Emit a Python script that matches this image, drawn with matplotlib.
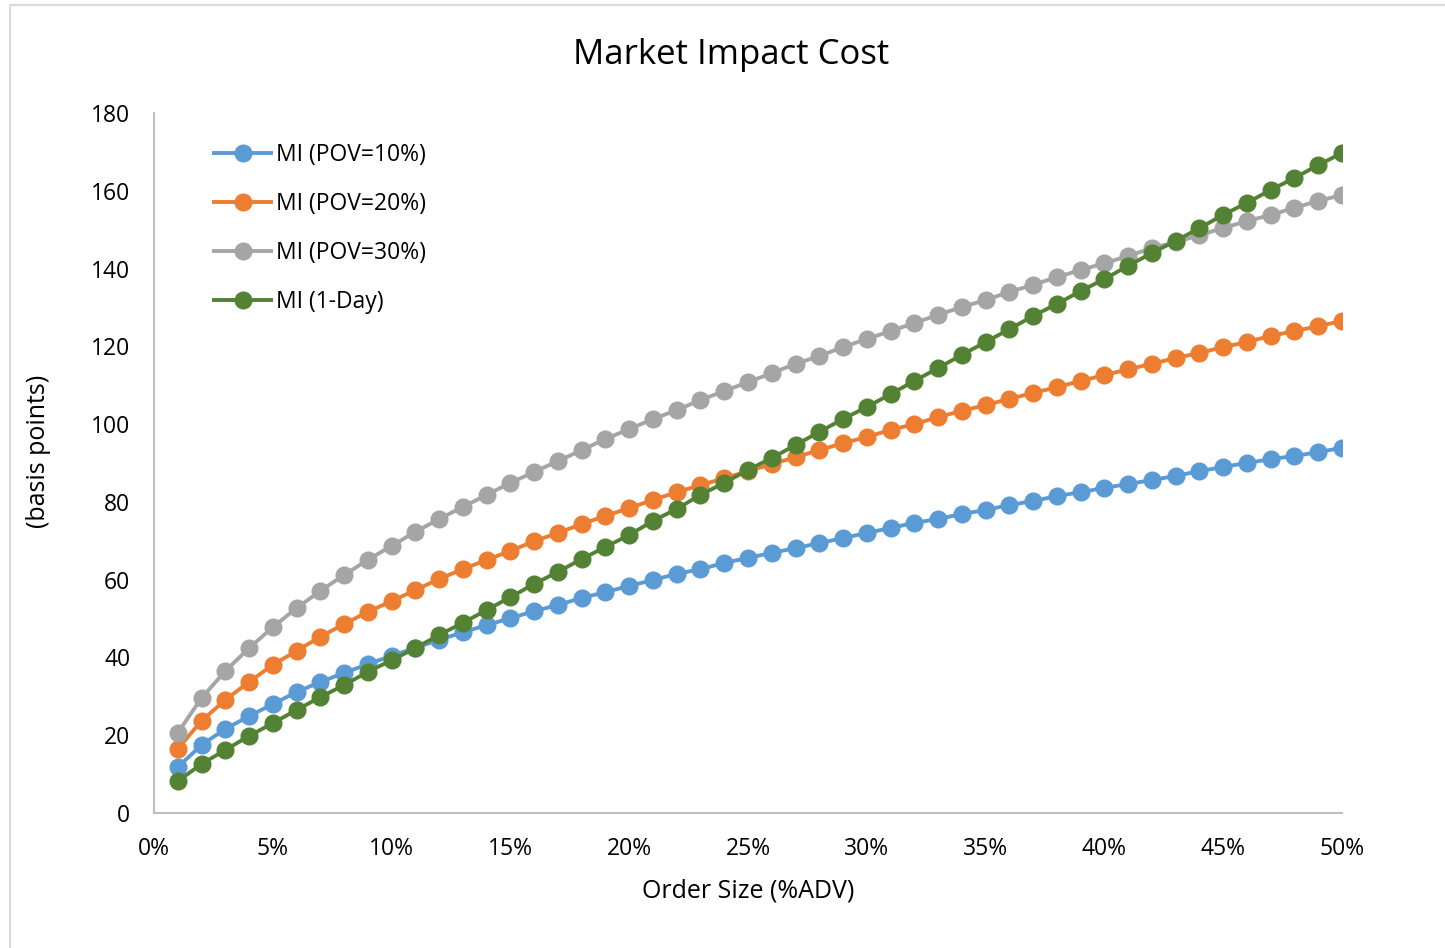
import numpy as np
import matplotlib.pyplot as plt
from matplotlib.patches import Rectangle
from matplotlib.ticker import FuncFormatter

# ---- data: order size (% of ADV) and market impact in basis points ----
order_size = np.arange(1, 51) / 100.0

mi_pov10 = [11.8, 17.5, 21.6, 24.9, 28.0, 31.1, 33.7, 36.0, 38.3, 40.4,
            42.5, 44.5, 46.5, 48.3, 50.1, 51.9, 53.5, 55.3, 56.8, 58.4,
            59.9, 61.5, 62.7, 64.3, 65.6, 66.9, 68.1, 69.4, 70.7, 72.0,
            73.3, 74.6, 75.6, 76.9, 77.9, 79.2, 80.2, 81.5, 82.5, 83.6,
            84.6, 85.6, 86.7, 87.9, 89.0, 90.0, 91.0, 91.8, 92.8, 93.9]

mi_pov20 = [16.5, 23.7, 29.1, 33.7, 38.1, 41.7, 45.3, 48.6, 51.7, 54.5,
            57.3, 60.2, 62.7, 65.1, 67.4, 69.9, 72.0, 74.3, 76.4, 78.4,
            80.5, 82.5, 84.3, 86.1, 87.9, 89.7, 91.5, 93.3, 95.1, 96.7,
            98.5, 100.0, 101.8, 103.4, 104.9, 106.5, 108.0, 109.5, 111.1, 112.6,
            114.1, 115.5, 117.0, 118.3, 119.8, 121.1, 122.7, 123.9, 125.2, 126.5]

mi_pov30 = [20.6, 29.6, 36.5, 42.4, 47.8, 52.7, 57.1, 61.2, 65.1, 68.7,
            72.3, 75.6, 78.7, 81.8, 84.9, 87.7, 90.5, 93.3, 96.2, 98.7,
            101.3, 103.6, 106.2, 108.5, 110.8, 113.1, 115.5, 117.5, 119.8, 121.9,
            123.9, 126.0, 128.1, 130.1, 131.9, 134.0, 135.8, 137.8, 139.6, 141.4,
            143.2, 145.3, 146.8, 148.6, 150.4, 152.2, 153.8, 155.6, 157.4, 158.9]

mi_1day = [8.2, 12.6, 16.2, 19.8, 23.1, 26.5, 29.8, 32.9, 36.3, 39.3,
           42.4, 45.8, 48.9, 52.2, 55.5, 58.9, 62.0, 65.3, 68.4, 71.5,
           75.1, 78.2, 81.8, 84.9, 88.2, 91.3, 94.6, 98.0, 101.3, 104.4,
           107.7, 111.1, 114.4, 117.8, 121.1, 124.4, 127.8, 130.9, 134.2, 137.3,
           140.7, 144.0, 147.1, 150.4, 153.8, 156.9, 160.2, 163.3, 166.6, 169.7]

series = [
    ("MI (POV=10%)", mi_pov10, "#5b9bd5"),
    ("MI (POV=20%)", mi_pov20, "#ed7d31"),
    ("MI (POV=30%)", mi_pov30, "#a5a5a5"),
    ("MI (1-Day)", mi_1day, "#548235"),
]

plt.rcParams['font.family'] = ['Open Sans', 'DejaVu Sans']

fig = plt.figure(figsize=(14.45, 9.48), dpi=100)
ax = fig.add_axes([0.1066, 0.1424, 0.8221, 0.7384])

# light chart-area border
fig.patches.append(Rectangle((10 / 1445, -0.01), 1.0, 943 / 948 + 0.01,
                             transform=fig.transFigure, fill=False,
                             edgecolor="#d9d9d9", linewidth=1.5))

for label, values, color in series:
    ax.plot(order_size, values, color=color, linewidth=2.8, marker="o",
            markersize=12, label=label)

ax.set_xlim(0, 0.5)
ax.set_ylim(0, 180)
ax.set_xticks(np.arange(0, 0.51, 0.05))
ax.set_yticks(np.arange(0, 181, 20))
ax.xaxis.set_major_formatter(FuncFormatter(lambda v, _: f"{v * 100:.0f}%"))
ax.tick_params(length=0, labelsize=16.5, pad=17)

for side in ("top", "right"):
    ax.spines[side].set_visible(False)
for side in ("left", "bottom"):
    ax.spines[side].set_color("#bfbfbf")
    ax.spines[side].set_linewidth(1.5)

fig.text(731 / 1445, 1 - 55 / 948, "Market Impact Cost", fontsize=25,
         ha="center", va="center")
ax.set_xlabel("Order Size (%ADV)", fontsize=18, labelpad=13)
ax.set_ylabel("(basis points)", fontsize=18)
ax.yaxis.set_label_coords(-0.087, 0.516)

ax.legend(loc="upper left", bbox_to_anchor=(0.033, 0.987), frameon=False,
          fontsize=16.5, handlelength=2.5, handletextpad=0.2, labelspacing=1.1)

fig.savefig("out.png", dpi=100)
